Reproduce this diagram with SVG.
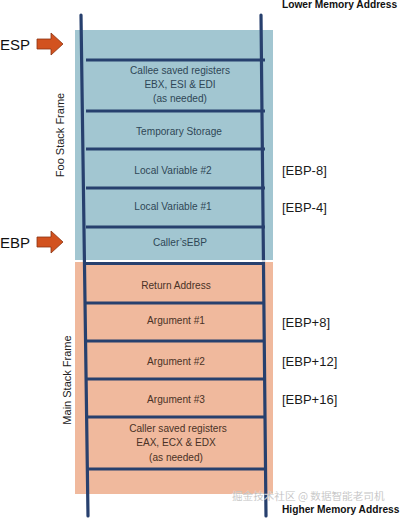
<svg xmlns="http://www.w3.org/2000/svg" width="400" height="518" viewBox="0 0 400 518">
<defs>
<style>
.lbl{font-family:"Liberation Sans",Arial,sans-serif;font-size:10.1px;text-anchor:middle}
.foo{fill:#2f4656}
.main{fill:#4a3226}
.off{font-family:"Liberation Sans",Arial,sans-serif;font-size:13px;fill:#1a1a1a}
.reg{font-family:"Liberation Sans",Arial,sans-serif;font-size:15px;fill:#111}
.side{font-family:"Liberation Sans",Arial,sans-serif;font-size:11px;fill:#222;text-anchor:middle}
.mem{font-family:"Liberation Sans",Arial,sans-serif;font-size:10.2px;font-weight:bold;fill:#111}
.rail{stroke:#27406e;stroke-width:3.2;stroke-linecap:round;fill:none}
.rung{stroke:#27406e;stroke-width:3;fill:none}
.arrow{fill:#d2521f;stroke:#8a3412;stroke-width:0.8}
</style>
</defs>
<rect width="400" height="518" fill="#ffffff"/>
<g id="foo-frame">
<rect x="75" y="30" width="198" height="230" fill="#a2c6d1"/>
<text class="side" transform="translate(64,135) rotate(-90)">Foo Stack Frame</text>
</g>
<g id="main-frame">
<rect x="75" y="262" width="198" height="232" fill="#f0b99d"/>
<text class="side" transform="translate(71,380) rotate(-90)">Main Stack Frame</text>
</g>
<g id="connectors">
<line class="rail" x1="81" y1="15" x2="88" y2="516"/>
<line class="rail" x1="261" y1="15" x2="266" y2="516"/>
<line class="rung" x1="86" y1="60" x2="265" y2="60"/>
<line class="rung" x1="86" y1="111" x2="265" y2="111"/>
<line class="rung" x1="86" y1="149" x2="265" y2="149"/>
<line class="rung" x1="86" y1="188" x2="265" y2="188"/>
<line class="rung" x1="86" y1="227" x2="265" y2="227"/>
<line x1="86" y1="261" x2="265" y2="261" stroke="#ffffff" stroke-width="1.5"/>
<line class="rung" x1="86" y1="263.5" x2="265" y2="263.5"/>
<line class="rung" x1="86" y1="303" x2="265" y2="303"/>
<line class="rung" x1="86" y1="341" x2="265" y2="341"/>
<line class="rung" x1="86" y1="379" x2="265" y2="379"/>
<line class="rung" x1="86" y1="417" x2="265" y2="417"/>
<line class="rung" x1="86" y1="469" x2="265" y2="469"/>
</g>
<g id="callee-saved">
<text class="lbl foo" x="180" y="74">Callee saved registers</text>
<text class="lbl foo" x="180" y="88">EBX, ESI &amp; EDI</text>
<text class="lbl foo" x="180" y="102">(as needed)</text>
</g>
<g id="temp-storage"><text class="lbl foo" x="179" y="135">Temporary Storage</text></g>
<g id="local-var-2"><text class="lbl foo" x="173" y="174">Local Variable #2</text></g>
<g id="local-var-1"><text class="lbl foo" x="173" y="210">Local Variable #1</text></g>
<g id="callers-ebp"><text class="lbl foo" x="180" y="246">Caller’sEBP</text></g>
<g id="return-address"><text class="lbl main" x="176" y="289">Return Address</text></g>
<g id="argument-1"><text class="lbl main" x="176" y="324">Argument #1</text></g>
<g id="argument-2"><text class="lbl main" x="176" y="365">Argument #2</text></g>
<g id="argument-3"><text class="lbl main" x="176" y="403">Argument #3</text></g>
<g id="caller-saved">
<text class="lbl main" x="178" y="432">Caller saved registers</text>
<text class="lbl main" x="176" y="446">EAX, ECX &amp; EDX</text>
<text class="lbl main" x="176" y="461">(as needed)</text>
</g>
<g id="offsets">
<text class="off" x="282" y="175">[EBP-8]</text>
<text class="off" x="282" y="212">[EBP-4]</text>
<text class="off" x="282" y="327">[EBP+8]</text>
<text class="off" x="282" y="366">[EBP+12]</text>
<text class="off" x="282" y="404">[EBP+16]</text>
</g>
<g id="esp">
<text class="reg" x="0" y="50">ESP</text>
<path class="arrow" d="M37,39 H51 V33 L63,44 L51,55 V49 H37 Z"/>
</g>
<g id="ebp">
<text class="reg" x="0" y="248">EBP</text>
<path class="arrow" d="M37,237 H51 V231 L63,242 L51,253 V247 H37 Z"/>
</g>
<g id="lower-addr"><text class="mem" x="282" y="8">Lower Memory Address</text></g>
<g id="higher-addr"><text class="mem" x="282" y="513">Higher Memory Address</text></g>
<text x="232" y="500" font-family="'Noto Sans CJK SC',sans-serif" font-size="10.6" fill="#9a9a9a" fill-opacity="0.85" stroke="#ffffff" stroke-width="0.4" stroke-opacity="0.6">掘金技术社区 @ 数据智能老司机</text>
</svg>
